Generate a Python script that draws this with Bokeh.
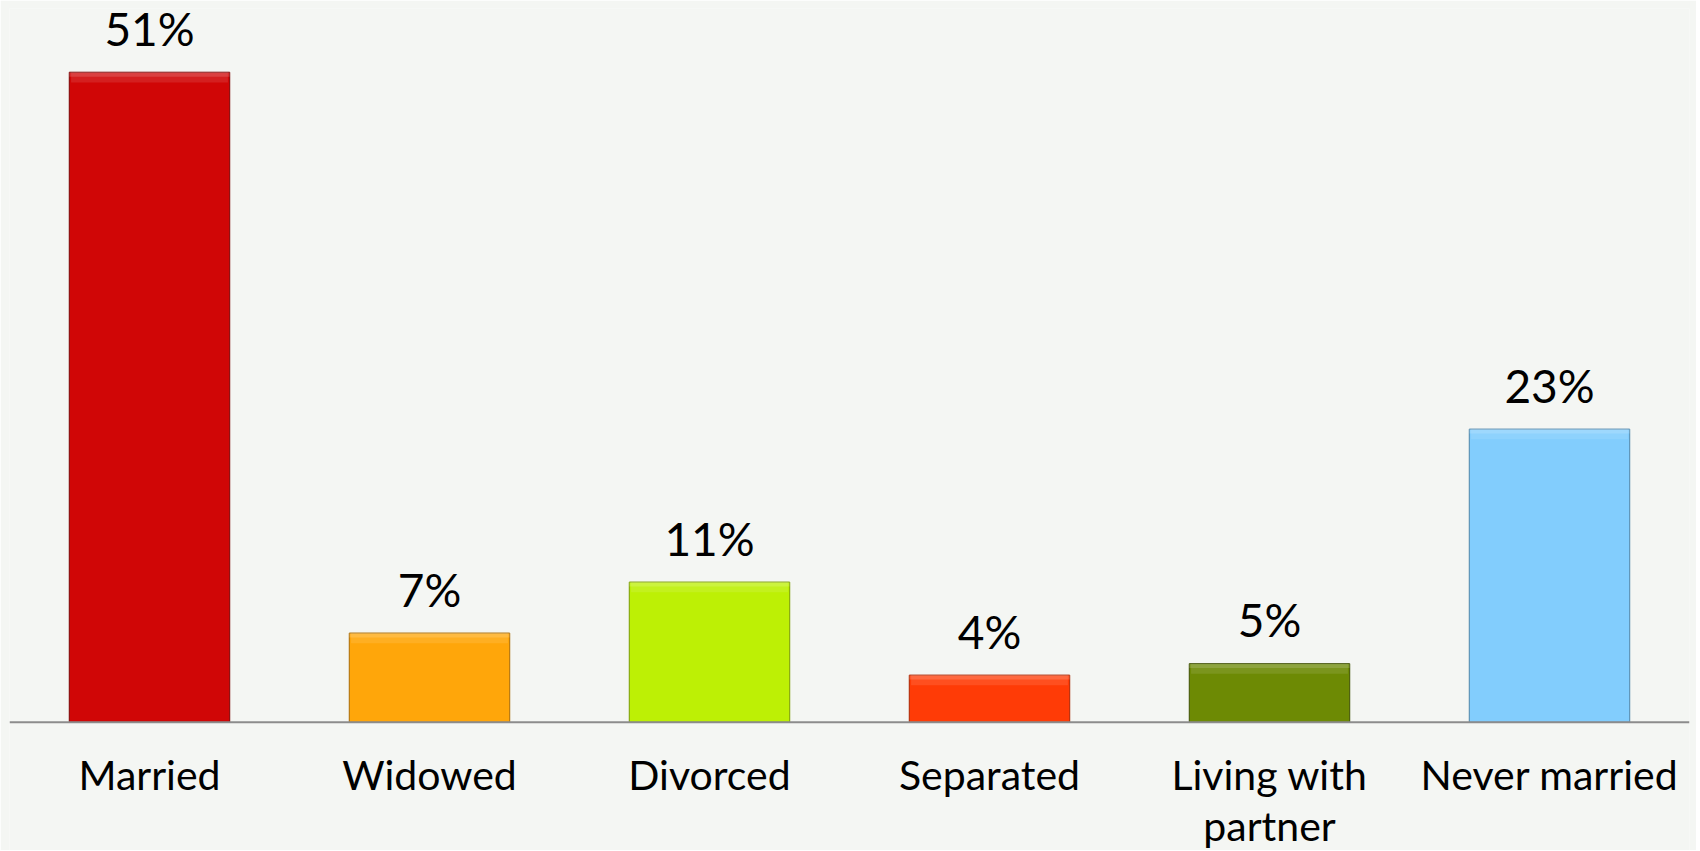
from bokeh.plotting import figure
from bokeh.models import FactorRange, Range1d, ColumnDataSource, Span
from bokeh.core.properties import value
from bokeh.embed import file_html
from bokeh.resources import INLINE

categories = ["Married", "Widowed", "Divorced", "Separated", "Living with partner", "Never married"]
values = [51, 7, 11, 3.7, 4.6, 23]
value_labels = ["51%", "7%", "11%", "4%", "5%", "23%"]
label_line1 = ["Married", "Widowed", "Divorced", "Separated", "Living with", "Never married"]
label_line2 = ["", "", "", "", "partner", ""]
colors = ["#d00606", "#ffa60a", "#bdf005", "#ff3b06", "#6d8a04", "#82cdfd"]
edge_colors = ["#7a0303", "#a86a05", "#7a9a03", "#a82502", "#3e4f02", "#4f85a8"]

BG = "#f4f6f3"
FONT = "Lato"

src = ColumnDataSource(dict(
    x=categories, top=values, label=value_labels, color=colors, edge=edge_colors,
    hl1=[v - 0.35 for v in values],
    hl2=[v - 0.8 for v in values],
    zero=[0] * len(categories),
    l1=label_line1, l2=label_line2,
))

p = figure(
    x_range=FactorRange(*categories, range_padding=0),
    y_range=Range1d(-10.06, 56),
    width=1696, height=850,
    output_backend="svg", toolbar_location=None,
    min_border_left=9, min_border_right=7, min_border_top=8, min_border_bottom=0,
    background_fill_color=BG, border_fill_color=BG,
)
p.outline_line_color = None
p.xgrid.grid_line_color = None
p.ygrid.grid_line_color = None
p.xaxis.visible = False
p.yaxis.visible = False

p.vbar(x="x", top="top", bottom=0, width=0.573, fill_color="color",
       line_color="edge", line_width=1, source=src)
# bevel highlight along the top edge
p.vbar(x="x", top="top", bottom="hl2", width=0.56, fill_color="white",
       fill_alpha=0.10, line_color=None, source=src)
p.vbar(x="x", top="top", bottom="hl1", width=0.573, fill_color="white",
       fill_alpha=0.15, line_color=None, source=src)

# baseline (category axis line)
p.add_layout(Span(location=0, dimension="width", line_color="#8c8c8c", line_width=2))

# value labels
p.text(x="x", y="top", text="label", source=src, text_align="center",
       text_baseline="alphabetic", y_offset=-44, text_font=value(FONT),
       text_font_size="46px", text_color="#000000")

# category labels (two lines)
p.text(x="x", y="zero", text="l1", source=src, text_align="center",
       text_baseline="alphabetic", y_offset=52, text_font=value(FONT),
       text_font_size="41px", text_color="#000000")
p.text(x="x", y="zero", text="l2", source=src, text_align="center",
       text_baseline="alphabetic", y_offset=103, text_font=value(FONT),
       text_font_size="41px", text_color="#000000")

open("out.html", "w").write(file_html(p, INLINE))
